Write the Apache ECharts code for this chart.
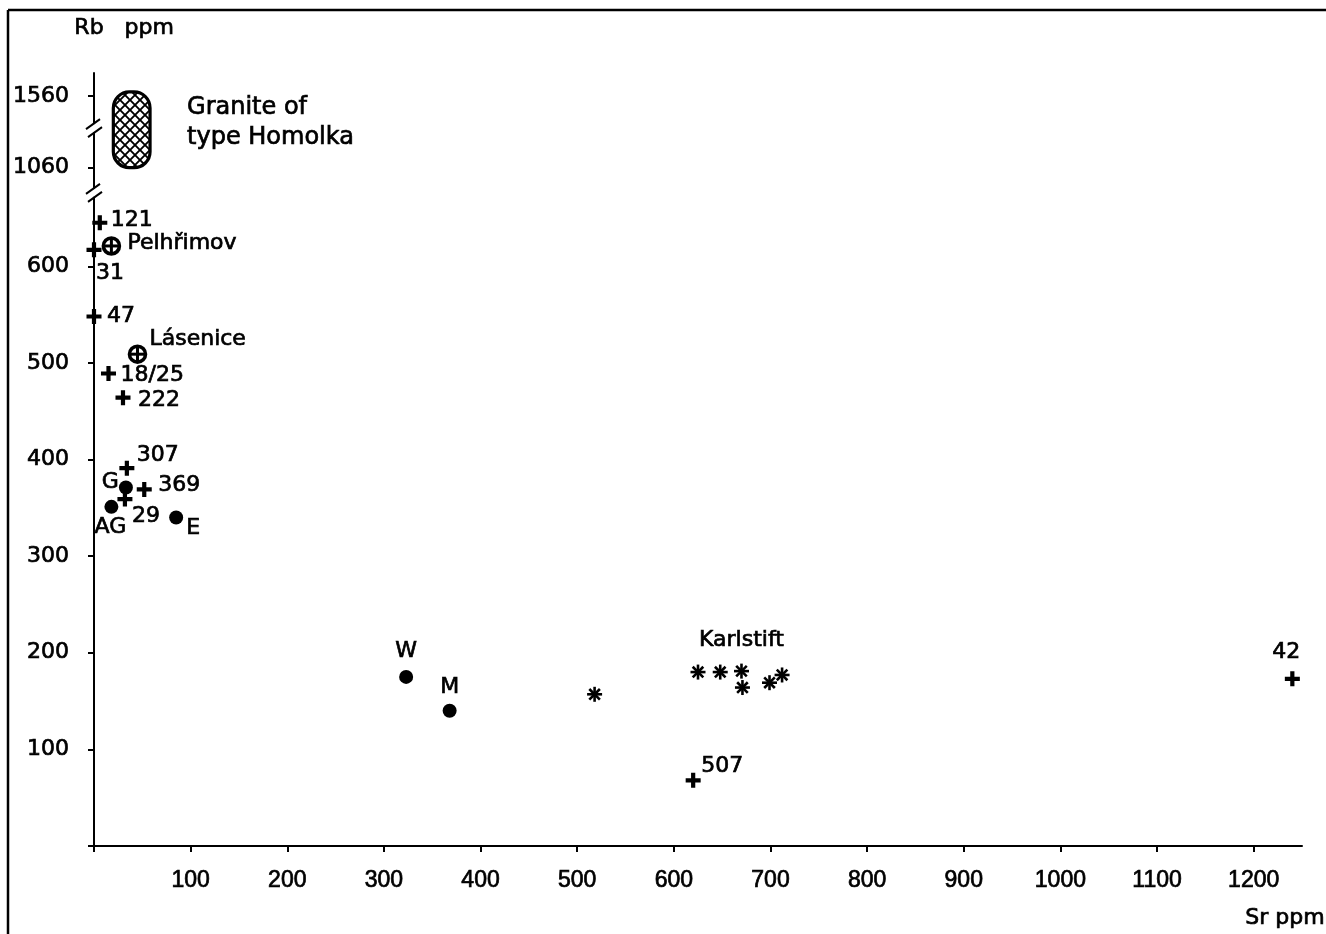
<!DOCTYPE html>
<html>
<head>
<meta charset="utf-8">
<script src="https://cdn.jsdelivr.net/npm/echarts@6/dist/echarts.min.js"></script>
<style>
  html, body { margin: 0; padding: 0; background: #fff; }
  #chart { width: 1326px; height: 934px; }
</style>
</head>
<body>
<div id="chart"></div>
<script>
// samples drawn with +
const crossNames = ['121', '31', '47', '18/25', '222', '307', '369', '29', '507', '42'];
const crossSr = [6, 0, 0, 15, 30, 34, 52, 32, 620, 1240];
const crossRb = [645, 617, 548, 489, 464, 391, 369, 359, 68, 173];

// samples drawn with filled dots
const dotNames = ['G', 'AG', 'E', 'W', 'M'];
const dotSr = [33, 18, 85, 323, 368];
const dotRb = [371, 351, 340, 175, 140];

// localities drawn with a circled cross
const ringNames = ['Pelhřimov', 'Lásenice'];
const ringSr = [18, 45];
const ringRb = [621, 509];

// Karlstift granite (asterisks)
const karlstiftSr = [518, 625, 648, 670, 671, 699, 712];
const karlstiftRb = [157, 180, 180, 181, 164, 169, 177];

// field of the Homolka type granite
const homolkaSr = [20, 58];
const homolkaRb = [1060, 1590];

const xTickValues = [100, 200, 300, 400, 500, 600, 700, 800, 900, 1000, 1100, 1200];
const yTickValues = [100, 200, 300, 400, 500, 600, 1060, 1560];

// Rb axis is broken: above 1060 ppm, 500 ppm take the room of ~74
function rbToAxis(rb) {
  return rb < 1000 ? rb : 702 + (rb - 1060) * 0.148;
}
const yTickPos = yTickValues.map(rbToAxis);
const axisBreakAt = [676, 743];

const FONT = 'DejaVu Sans';
const NUM_FONT = 'Liberation Sans';
// lettering in the scan is heavier than the regular font
const INK = { textBorderColor: '#000', textBorderWidth: 0.7 };

// where each label sits around its mark: [dx, dy, align]
const labelPlace = {
  '121': [11, -2, 'left'], '31': [2, 23, 'left'], '47': [13, 0, 'left'],
  '18/25': [12, 2, 'left'], '222': [15, 3, 'left'], '307': [10, -13, 'left'],
  '369': [14, -4, 'left'], '29': [7, 17, 'left'], '507': [8, -14, 'left'],
  '42': [-6, -27, 'center'],
  'G': [-7, -5, 'right'], 'AG': [-1, 20, 'center'], 'E': [10, 11, 'left'],
  'W': [0, -26, 'center'], 'M': [0, -23, 'center'],
  'Pelhřimov': [16, -3, 'left'], 'Lásenice': [12, -15, 'left']
};

function pointData(names, sr, rb) {
  return names.map((n, i) => {
    const p = labelPlace[n];
    return {
      name: n,
      value: [sr[i], rbToAxis(rb[i])],
      label: { offset: [p[0], p[1]], align: p[2] }
    };
  });
}

// cross hatch for the Homolka field
function hatchPattern() {
  const c = document.createElement('canvas');
  const s = 10;
  c.width = s; c.height = s;
  const g = c.getContext('2d');
  g.fillStyle = '#fff';
  g.fillRect(0, 0, s, s);
  g.strokeStyle = '#000';
  g.lineWidth = 1.9;
  g.beginPath();
  g.moveTo(-2, -2); g.lineTo(s + 2, s + 2);
  g.moveTo(s + 2, -2); g.lineTo(-2, s + 2);
  g.stroke();
  return c;
}
const hatch = hatchPattern();

const labelStyle = Object.assign({
  show: true,
  position: 'inside',
  formatter: '{b}',
  color: '#000',
  fontFamily: FONT,
  fontSize: 22,
  verticalAlign: 'middle'
}, INK);

function textStyle(extra) {
  return Object.assign({ fill: '#000', stroke: '#000', lineWidth: 0.7 }, extra);
}

const chart = echarts.init(document.getElementById('chart'));

chart.setOption({
  animation: false,
  backgroundColor: '#fff',
  grid: { left: 94, right: 24, top: 73, bottom: 88 },
  xAxis: {
    type: 'value',
    min: 0,
    max: 1250,
    splitLine: { show: false },
    axisLine: { lineStyle: { color: '#000', width: 2 } },
    axisTick: { customValues: [0].concat(xTickValues), length: 6, lineStyle: { color: '#000', width: 2 } },
    axisLabel: Object.assign({
      customValues: xTickValues,
      color: '#000', fontFamily: NUM_FONT, fontSize: 23, margin: 23,
      formatter: (v) => String(v)
    }, INK)
  },
  yAxis: {
    type: 'value',
    min: 0,
    max: 800,
    splitLine: { show: false },
    axisLine: { onZero: false, lineStyle: { color: '#000', width: 2 } },
    axisTick: { customValues: [0].concat(yTickPos), length: 6, lineStyle: { color: '#000', width: 2 } },
    axisLabel: Object.assign({
      customValues: yTickPos,
      color: '#000', fontFamily: FONT, fontSize: 22, margin: 25,
      formatter: (v) => {
        const i = yTickPos.findIndex((p) => Math.abs(p - v) < 0.01);
        return i >= 0 ? String(yTickValues[i]) : '';
      }
    }, INK)
  },
  series: [
    {
      name: 'Homolka',
      type: 'custom',
      data: [[homolkaSr[0], rbToAxis(homolkaRb[0]), homolkaSr[1], rbToAxis(homolkaRb[1])]],
      renderItem: (params, api) => {
        const a = api.coord([api.value(0), api.value(3)]);
        const b = api.coord([api.value(2), api.value(1)]);
        const w = b[0] - a[0], h = b[1] - a[1];
        return {
          type: 'group',
          children: [
            {
              type: 'rect',
              shape: { x: a[0], y: a[1], width: w, height: h, r: 16 },
              style: { fill: { image: hatch, repeat: 'repeat' }, stroke: '#000', lineWidth: 3.2 }
            },
            {
              type: 'text',
              style: textStyle({
                x: b[0] + 37, y: a[1] + h / 2 - 7,
                text: 'Granite of\ntype Homolka',
                font: '24px "' + FONT + '"',
                lineHeight: 30, align: 'left', verticalAlign: 'middle'
              })
            }
          ]
        };
      }
    },
    {
      name: 'crosses',
      type: 'scatter',
      symbol: 'path://M3.6,0H6.4V3.6H10V6.4H6.4V10H3.6V6.4H0V3.6H3.6Z',
      symbolSize: 15,
      itemStyle: { color: '#000', opacity: 1 },
      label: labelStyle,
      data: pointData(crossNames, crossSr, crossRb)
    },
    {
      name: 'dots',
      type: 'scatter',
      symbol: 'circle',
      symbolSize: 14,
      itemStyle: { color: '#000', opacity: 1 },
      label: labelStyle,
      data: pointData(dotNames, dotSr, dotRb)
    },
    {
      name: 'rings',
      type: 'custom',
      data: ringNames.map((n, i) => ({ name: n, value: [ringSr[i], rbToAxis(ringRb[i])] })),
      renderItem: (params, api) => {
        const p = api.coord([api.value(0), api.value(1)]);
        const r = 8;
        const pl = labelPlace[ringNames[params.dataIndex]];
        return {
          type: 'group',
          children: [
            { type: 'circle', shape: { cx: p[0], cy: p[1], r: r }, style: { fill: '#fff', stroke: '#000', lineWidth: 3.6 } },
            { type: 'line', shape: { x1: p[0] - r, y1: p[1], x2: p[0] + r, y2: p[1] }, style: { stroke: '#000', lineWidth: 3 } },
            { type: 'line', shape: { x1: p[0], y1: p[1] - r, x2: p[0], y2: p[1] + r }, style: { stroke: '#000', lineWidth: 3 } },
            {
              type: 'text',
              style: textStyle({
                x: p[0] + pl[0], y: p[1] + pl[1], text: ringNames[params.dataIndex],
                font: '22px "' + FONT + '"', align: pl[2], verticalAlign: 'middle'
              })
            }
          ]
        };
      }
    },
    {
      name: 'Karlstift',
      type: 'custom',
      data: karlstiftSr.map((s, i) => [s, rbToAxis(karlstiftRb[i])]),
      renderItem: (params, api) => {
        const p = api.coord([api.value(0), api.value(1)]);
        const r = 7.5, d = r * Math.SQRT1_2;
        const ls = { stroke: '#000', lineWidth: 2.6 };
        const children = [
          { type: 'line', shape: { x1: p[0] - r, y1: p[1], x2: p[0] + r, y2: p[1] }, style: ls },
          { type: 'line', shape: { x1: p[0], y1: p[1] - r, x2: p[0], y2: p[1] + r }, style: ls },
          { type: 'line', shape: { x1: p[0] - d, y1: p[1] - d, x2: p[0] + d, y2: p[1] + d }, style: ls },
          { type: 'line', shape: { x1: p[0] - d, y1: p[1] + d, x2: p[0] + d, y2: p[1] - d }, style: ls }
        ];
        if (params.dataIndex === 3) {
          children.push({
            type: 'text',
            style: textStyle({
              x: p[0], y: p[1] - 31, text: 'Karlstift',
              font: '22px "' + FONT + '"', align: 'center', verticalAlign: 'middle'
            })
          });
        }
        return { type: 'group', children: children };
      }
    }
  ]
});

// frame, axis names and the break marks on the Rb axis
const ax = chart.convertToPixel({ xAxisIndex: 0 }, 0);
const breakMarks = [];
axisBreakAt.forEach((v) => {
  const y = chart.convertToPixel({ yAxisIndex: 0 }, v);
  breakMarks.push(
    { type: 'rect', shape: { x: ax - 3, y: y - 4, width: 6, height: 8 }, style: { fill: '#fff' }, z: 50 },
    { type: 'line', shape: { x1: ax - 8, y1: y + 1, x2: ax + 6, y2: y - 9 }, style: { stroke: '#000', lineWidth: 2 }, z: 51 },
    { type: 'line', shape: { x1: ax - 6, y1: y + 9, x2: ax + 8, y2: y - 1 }, style: { stroke: '#000', lineWidth: 2 }, z: 51 }
  );
});

chart.setOption({
  graphic: [
    { type: 'line', shape: { x1: 8, y1: 10, x2: 1326, y2: 10 }, style: { stroke: '#000', lineWidth: 2.5 } },
    { type: 'line', shape: { x1: 8, y1: 10, x2: 8, y2: 934 }, style: { stroke: '#000', lineWidth: 2.5 } },
    {
      type: 'text', left: 74, top: 17,
      style: textStyle({ text: 'Rb   ppm', font: '22px "' + FONT + '"' })
    },
    {
      type: 'text', left: 1245, top: 907,
      style: textStyle({ text: 'Sr ppm', font: '22px "' + FONT + '"' })
    }
  ].concat(breakMarks)
});
</script>
</body>
</html>
